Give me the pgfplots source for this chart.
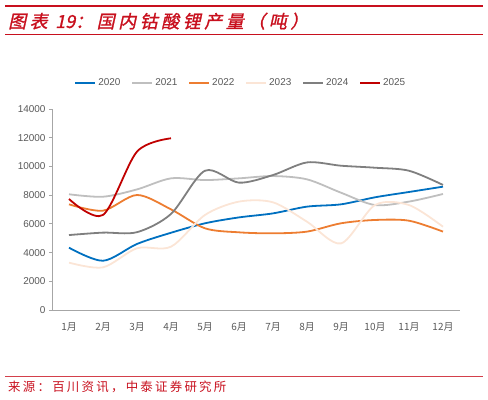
\documentclass[border=0pt]{standalone}
\usepackage{fontspec}
\setmainfont{Liberation Sans}
\newfontfamily\cjk{Noto Sans CJK SC}
\newfontfamily\cjksrc[LetterSpace=18]{Noto Sans CJK SC}
\newfontfamily\cjktitle[FakeSlant=0.22,FakeBold=1.2,LetterSpace=20]{Noto Sans CJK SC}
\newfontfamily\cjktitlenum[FakeSlant=0.22,FakeBold=1.2]{Noto Sans CJK SC}
\usepackage{pgfplots}
\usepackage{pgfplotstable}
\pgfplotsset{compat=1.18}
\definecolor{c20}{RGB}{0,112,192}
\definecolor{c21}{RGB}{191,191,191}
\definecolor{c22}{RGB}{237,125,49}
\definecolor{c23}{RGB}{251,229,214}
\definecolor{c24}{RGB}{127,127,127}
\definecolor{c25}{RGB}{192,0,0}
\definecolor{titlered}{RGB}{200,16,30}
\definecolor{txtgray}{RGB}{89,89,89}
\definecolor{axgray}{RGB}{166,166,166}

\pgfplotstableread{
m v20 v21 v22 v23 v24
1 4340 8060 7360 3300 5220
2 3430 7890 6920 2970 5390
3 4600 8400 8010 4300 5420
4 5380 9170 7010 4410 6690
5 6040 9050 5690 6620 9700
6 6450 9170 5410 7550 8870
7 6730 9330 5340 7500 9400
8 7200 9100 5460 6150 10280
9 7360 8170 6040 4640 10050
10 7850 7310 6270 7310 9910
11 8220 7550 6220 7310 9700
12 8590 8080 5460 5800 8710
}\datamain
\pgfplotstableread{
m v25
1 7730
2 6620
3 11030
4 11960
}\datanew

\begin{document}
\begin{tikzpicture}
\useasboundingbox (0,0) rectangle (488bp,400bp);
\draw[titlered, line width=2bp] (5bp,394bp) -- (483bp,394bp);
\node[anchor=base west, inner sep=0pt, text=titlered, font=\cjktitle\fontsize{18}{20}\selectfont] at (8bp,372bp) {图表 {\cjktitlenum 19}：国内钴酸锂产量（吨）};
\draw[titlered, line width=0.8bp] (5bp,366bp) -- (483bp,366bp);
\draw[titlered!80, line width=0.8bp] (5bp,24bp) -- (483bp,24bp);
\node[anchor=base west, inner sep=0pt, text=titlered, font=\cjksrc\fontsize{12.5}{14}\selectfont] at (8bp,9bp) {来源：百川资讯，中泰证券研究所};
\begin{axis}[
  at={(52bp,90bp)}, anchor=south west,
  scale only axis, width=408bp, height=201bp,
  xmin=0.5, xmax=12.5, ymin=0, ymax=14000,
  axis x line*=bottom, axis y line*=left,
  axis line style={axgray, line width=0.8bp},
  xtick={1,...,12},
  xticklabels={1月,2月,3月,4月,5月,6月,7月,8月,9月,10月,11月,12月},
  xticklabel style={font=\cjk\fontsize{10}{12}\selectfont, text=txtgray, yshift=-6bp},
  x tick style={draw=none},
  minor xtick={0.5,1.5,...,12.5},
  minor x tick style={axgray, line width=0.8bp},
  minor tick length=4bp,
  tick align=outside,
  ytick={0,2000,...,14000},
  scaled y ticks=false,
  y tick style={axgray, line width=0.8bp},
  major tick length=3bp,
  yticklabel style={font=\fontsize{10}{12}\selectfont, text=txtgray},
  /pgf/number format/1000 sep={},
  /pgf/number format/assume math mode=true,
  legend columns=-1,
  legend style={at={(0.463,1)}, anchor=center, yshift=26bp, draw=none, fill=none,
    font=\fontsize{10}{12}\selectfont, text=txtgray,
    /tikz/every even column/.append style={column sep=9bp}},
  legend image code/.code={\draw[#1, line width=1.8bp] (0bp,0bp) -- (20bp,0bp);},
  every axis plot/.append style={line width=1.8bp, no markers, smooth, tension=0.5},
]
\addplot[c20] table[x=m, y=v20] {\datamain};
\addplot[c21] table[x=m, y=v21] {\datamain};
\addplot[c22] table[x=m, y=v22] {\datamain};
\addplot[c23] table[x=m, y=v23] {\datamain};
\addplot[c24] table[x=m, y=v24] {\datamain};
\addplot[c25] table[x=m, y=v25] {\datanew};
\legend{2020,2021,2022,2023,2024,2025}
\end{axis}
\end{tikzpicture}
\end{document}
